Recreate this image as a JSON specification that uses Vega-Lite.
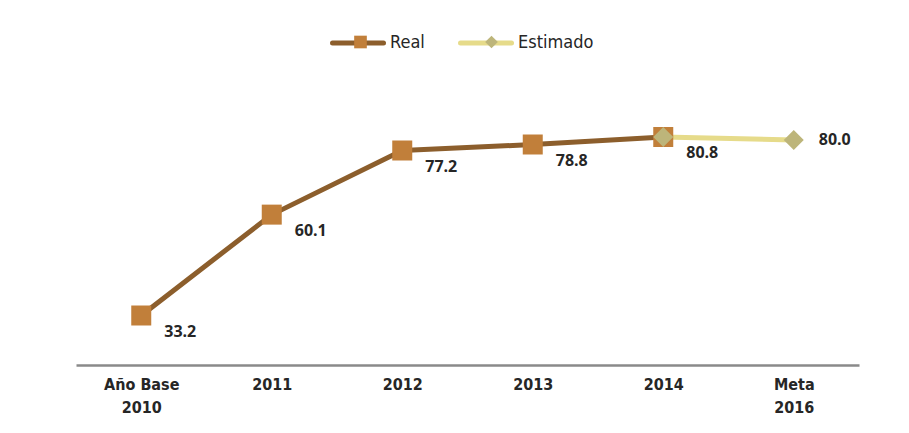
{
  "$schema": "https://vega.github.io/schema/vega-lite/v6.json",
  "width": 783,
  "height": 300,
  "autosize": {"type": "none"},
  "padding": {"left": 76, "top": 65, "right": 50, "bottom": 68},
  "background": "white",
  "config": {"view": {"stroke": null}},
  "data": {
    "values": [
      {"cat": "Año Base|2010", "valor": 33.2, "serie": "Real", "tipo": "Real"},
      {"cat": "2011", "valor": 60.1, "serie": "Real", "tipo": "Real"},
      {"cat": "2012", "valor": 77.2, "serie": "Real", "tipo": "Real"},
      {"cat": "2013", "valor": 78.8, "serie": "Real", "tipo": "Real"},
      {"cat": "2014", "valor": 80.8, "serie": "Real", "tipo": "Real"},
      {"cat": "2014", "valor": 80.8, "serie": "Estimado", "tipo": "Estimado"},
      {"cat": "Meta|2016", "valor": 80.0, "serie": "Estimado", "tipo": "Estimado"}
    ]
  },
  "encoding": {
    "x": {
      "field": "cat",
      "type": "nominal",
      "sort": null,
      "scale": {"domain": ["Año Base|2010", "2011", "2012", "2013", "2014", "Meta|2016"], "padding": 0.5},
      "axis": {
        "title": null,
        "labelAngle": 0,
        "ticks": false,
        "grid": false,
        "domainColor": "#8A8A8A",
        "domainWidth": 2.5,
        "labelFont": "DejaVu Sans Condensed, sans-serif",
        "labelFontSize": 16,
        "labelFontWeight": "bold",
        "labelColor": "#262626",
        "labelPadding": 11,
        "labelLineHeight": 23,
        "labelBaseline": "top",
        "labelExpr": "split(datum.label, '|')"
      }
    },
    "y": {
      "field": "valor",
      "type": "quantitative",
      "scale": {"domain": [20, 100], "nice": false, "zero": false},
      "axis": null
    }
  },
  "layer": [
    {
      "mark": {"type": "line", "strokeWidth": 5, "strokeJoin": "round"},
      "encoding": {
        "stroke": {
          "field": "serie",
          "type": "nominal",
          "sort": ["Real", "Estimado"],
          "scale": {"range": ["#8C5E2C", "#E6DB8A"]},
          "legend": {
            "title": null,
            "orient": "none",
            "direction": "horizontal",
            "legendX": 254,
            "legendY": -50,
            "padding": 0,
            "symbolType": "stroke",
            "symbolSize": 2601,
            "symbolStrokeWidth": 5,
            "labelOffset": 4,
            "columnPadding": 25,
            "labelFont": "DejaVu Sans Condensed, sans-serif",
            "labelFontSize": 18,
            "labelColor": "#262626",
            "zindex": 0,
            "encode": {"symbols": {"update": {"strokeCap": {"value": "round"}}}}
          }
        }
      }
    },
    {
      "mark": {"type": "point", "filled": true, "size": 400, "opacity": 1},
      "encoding": {
        "fill": {
          "field": "tipo",
          "type": "nominal",
          "scale": {"domain": ["Real", "Estimado"], "range": ["#C17F3A", "#BDB57A"]},
          "legend": {
            "title": null,
            "orient": "none",
            "direction": "horizontal",
            "legendX": 275.5,
            "legendY": -32,
            "padding": 0,
            "symbolSize": 160,
            "symbolStrokeWidth": 0,
            "symbolOpacity": 1,
            "labelOffset": 0,
            "columnPadding": 113,
            "labelExpr": "''",
            "labelFontSize": 18,
            "zindex": 1
          }
        },
        "shape": {
          "field": "tipo",
          "type": "nominal",
          "scale": {"domain": ["Real", "Estimado"], "range": ["square", "diamond"]}
        }
      }
    },
    {
      "transform": [{"filter": "datum.serie == 'Real'"}],
      "mark": {"type": "text", "align": "left", "baseline": "middle", "dx": 23, "dy": 16, "font": "Open Sans", "fontSize": 16, "fontWeight": "bold", "color": "#262626"},
      "encoding": {"text": {"field": "valor", "type": "quantitative", "format": ".1f"}}
    },
    {
      "transform": [{"filter": "datum.cat == 'Meta|2016'"}],
      "mark": {"type": "text", "align": "left", "baseline": "middle", "dx": 25, "dy": 0, "font": "Open Sans", "fontSize": 16, "fontWeight": "bold", "color": "#262626"},
      "encoding": {"text": {"field": "valor", "type": "quantitative", "format": ".1f"}}
    }
  ]
}
